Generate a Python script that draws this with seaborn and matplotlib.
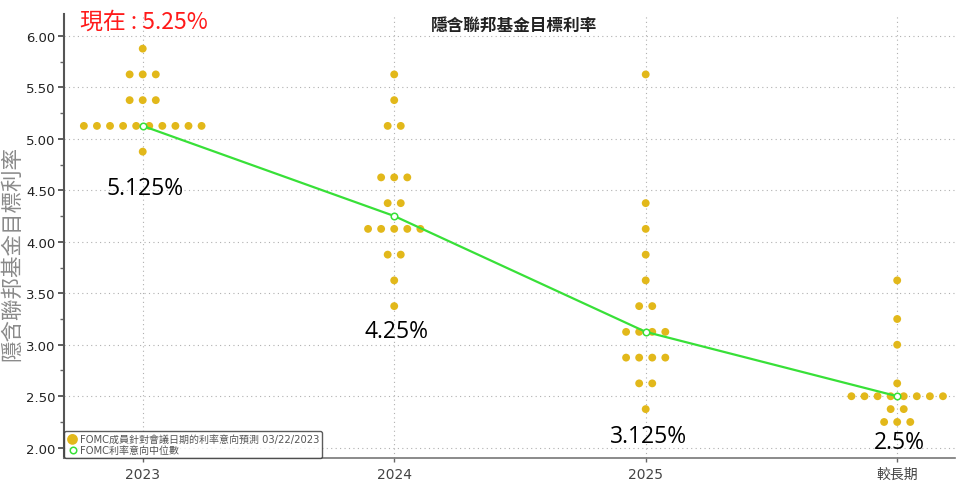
import numpy as np
import pandas as pd
import matplotlib.pyplot as plt
import seaborn as sns

sns.set_style("white")
plt.rcParams['font.family'] = ['DejaVu Sans', 'Noto Sans CJK TC']

# Data: dot plot levels and number of participants at each level
periods = ["2023", "2024", "2025", "較長期"]
rates_2023 = [5.875, 5.625, 5.375, 5.125, 4.875]
counts_2023 = [1, 3, 3, 10, 1]
rates_2024 = [5.625, 5.375, 5.125, 4.625, 4.375, 4.125, 3.875, 3.625, 3.375]
counts_2024 = [1, 1, 2, 3, 2, 5, 2, 1, 1]
rates_2025 = [5.625, 4.375, 4.125, 3.875, 3.625, 3.375, 3.125, 2.875, 2.625, 2.375]
counts_2025 = [1, 1, 1, 1, 1, 2, 4, 4, 2, 1]
rates_longer = [3.625, 3.25, 3.0, 2.625, 2.5, 2.375, 2.25]
counts_longer = [1, 1, 1, 1, 8, 2, 3]
medians = [5.125, 4.25, 3.125, 2.5]
median_labels = ["5.125%", "4.25%", "3.125%", "2.5%"]
label_y = [4.52, 3.13, 2.11, 2.06]

dot_label = "FOMC成員針對會議日期的利率意向預測 03/22/2023"
median_label = "FOMC利率意向中位數"

# Spread dots of the same level side by side around the period position
spacing = 0.052
rows = []
for i, (rates, counts) in enumerate([(rates_2023, counts_2023), (rates_2024, counts_2024),
                                     (rates_2025, counts_2025), (rates_longer, counts_longer)]):
    for r, n in zip(rates, counts):
        for k in range(n):
            rows.append({"x": i + (k - (n - 1) / 2) * spacing, "rate": r})
df = pd.DataFrame(rows)
med_df = pd.DataFrame({"x": range(len(periods)), "rate": medians})

fig, ax = plt.subplots(figsize=(9.61, 4.89), dpi=100)
fig.subplots_adjust(left=0.0666, right=0.9938, bottom=0.0613, top=0.969)

sns.scatterplot(data=df, x="x", y="rate", color="#E2B81A", s=32, edgecolor="none",
                label=dot_label, ax=ax, zorder=3)
sns.lineplot(data=med_df, x="x", y="rate", color="#38E038", lw=1.6, ax=ax,
             legend=False, zorder=4)
sns.scatterplot(data=med_df, x="x", y="rate", color="white", edgecolor="#38E038",
                linewidth=1.1, s=22, label=median_label, ax=ax, zorder=5)

# Median annotations
for i, (txt, yy) in enumerate(zip(median_labels, label_y)):
    ax.text(i + 0.01, yy, txt, ha="center", va="center", fontsize=16.5,
            family="Open Sans", color="black")

ax.text(0.018, 0.984, "現在 : 5.25%", transform=ax.transAxes, ha="left", va="center",
        fontsize=16.5, color="#FF1A1A", family=["Noto Sans CJK TC"])
ax.text(0.505, 0.977, "隱含聯邦基金目標利率", transform=ax.transAxes, ha="center",
        va="center", fontsize=12, fontweight="bold", color="#222222",
        family=["Noto Sans CJK TC"])

# Axes
ax.set_xlim(-0.313, 3.23)
ax.set_ylim(1.9, 6.21)
ax.set_xticks(range(len(periods)))
ax.set_xticklabels(periods, fontsize=10, color="#444444")
yt = np.arange(2.0, 6.01, 0.5)
ax.set_yticks(yt)
ax.set_yticklabels([f"{v:.2f}" for v in yt], fontsize=9.5, color="#222222")
ax.set_yticks(np.arange(2.25, 6.2, 0.5), minor=True)
ax.set_xlabel("")
ax.set_ylabel("隱含聯邦基金目標利率", fontsize=15.5, color="#8a8a8a",
              family=["Noto Sans CJK TC"])
ax.yaxis.set_label_coords(-0.046, 0.464)

ax.grid(True, which="major", linestyle=(0, (1, 3)), color="#b0b0b0", lw=0.8)
ax.tick_params(axis="y", which="major", direction="out", length=4, width=1.2,
               color="#444444", left=True, pad=2)
ax.tick_params(axis="y", which="minor", direction="out", length=3, width=1.0,
               color="#666666", left=True)
ax.tick_params(axis="x", direction="out", length=3, width=1, color="#666666", bottom=True)
for s in ["top", "right"]:
    ax.spines[s].set_visible(False)
ax.spines["left"].set_color("#555555")
ax.spines["left"].set_linewidth(1.5)
ax.spines["bottom"].set_color("#777777")
ax.spines["bottom"].set_linewidth(1.2)

leg = ax.legend(loc="lower left", bbox_to_anchor=(0, 0), borderaxespad=0,
                fontsize=7.2, frameon=True, fancybox=True, edgecolor="#333333",
                handletextpad=0.2, borderpad=0.35, labelspacing=0.05,
                handlelength=1.0, labelcolor="#555555")
leg.get_frame().set_linewidth(1.0)
leg.legend_handles[0].set_sizes([60])
leg.legend_handles[1].set_sizes([22])

plt.savefig("out.png", dpi=100)
